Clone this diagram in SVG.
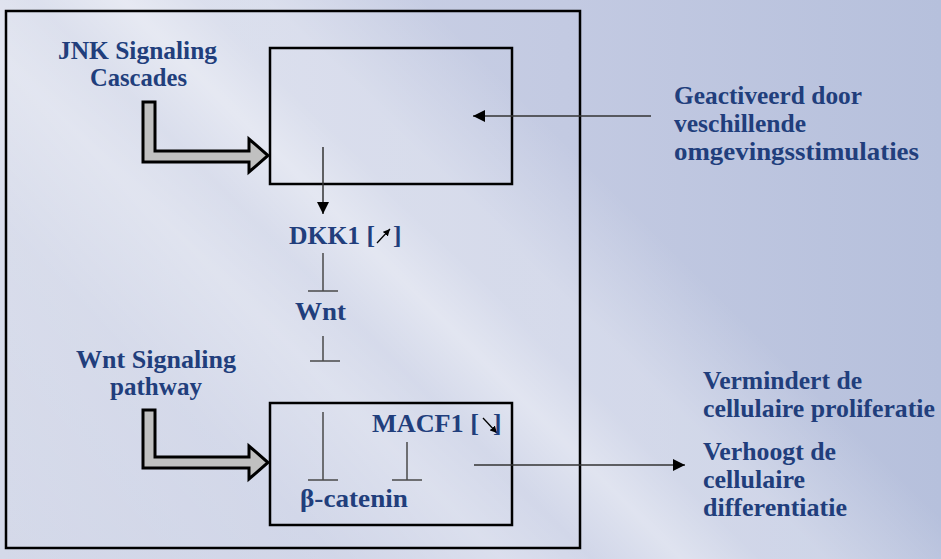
<svg xmlns="http://www.w3.org/2000/svg" width="941" height="559" viewBox="0 0 941 559">
  <defs>
    <linearGradient id="bgBase" x1="0" y1="0" x2="941" y2="0" gradientUnits="userSpaceOnUse">
      <stop offset="0" stop-color="#d2d7e8"/>
      <stop offset="0.6" stop-color="#c3cae2"/>
      <stop offset="1" stop-color="#b6c0dc"/>
    </linearGradient>
    <linearGradient id="bgStreak" x1="0" y1="559" x2="559" y2="0" gradientUnits="userSpaceOnUse">
      <stop offset="0" stop-color="#ffffff" stop-opacity="0.05"/>
      <stop offset="0.3" stop-color="#ffffff" stop-opacity="0.15"/>
      <stop offset="0.45" stop-color="#ffffff" stop-opacity="0.38"/>
      <stop offset="0.53" stop-color="#ffffff" stop-opacity="0.25"/>
      <stop offset="0.61" stop-color="#ffffff" stop-opacity="0.5"/>
      <stop offset="0.68" stop-color="#ffffff" stop-opacity="0.3"/>
      <stop offset="0.74" stop-color="#ffffff" stop-opacity="0.3"/>
      <stop offset="0.88" stop-color="#ffffff" stop-opacity="0"/>
      <stop offset="1" stop-color="#ffffff" stop-opacity="0"/>
    </linearGradient>
    <marker id="head" viewBox="0 0 12 12" refX="12" refY="6" markerWidth="12" markerHeight="12" markerUnits="userSpaceOnUse" orient="auto">
      <path d="M0,0 L12,6 L0,12 Z" fill="#000"/>
    </marker>
    <marker id="smallhead" viewBox="0 0 8 8" refX="8" refY="4" markerWidth="7" markerHeight="7" markerUnits="userSpaceOnUse" orient="auto">
      <path d="M0,0 L8,4 L0,8 Z" fill="#000"/>
    </marker>
    <style>
      .lbl { font-family: "Liberation Serif", "Times New Roman", serif; font-weight: bold; font-size: 25.5px; fill: #213e7c; }
      .box { fill: none; stroke: #000; stroke-width: 2.5; }
      .inh { stroke: #4a4a4a; stroke-width: 1.5; fill: none; }
      .arr { stroke: #333; stroke-width: 1.5; fill: none; }
      .fat { fill: #c0c0c0; stroke: #000; stroke-width: 3; stroke-linejoin: miter; }
      .tiny { stroke: #000; stroke-width: 1.3; fill: none; }
    </style>
  </defs>

  <rect x="0" y="0" width="941" height="559" fill="url(#bgBase)"/>
  <rect x="0" y="0" width="941" height="559" fill="url(#bgStreak)"/>

  <g id="frame">
    <rect class="box" x="6" y="11" width="574" height="537" stroke-width="3"/>
  </g>

  <g id="jnk-box">
    <rect class="box" x="270" y="48" width="242" height="136"/>
  </g>

  <g id="wnt-box">
    <rect class="box" x="270" y="403" width="242" height="122"/>
  </g>

  <g id="jnk-label">
    <text class="lbl" x="58" y="59" textLength="159" lengthAdjust="spacingAndGlyphs">JNK Signaling</text>
    <text class="lbl" x="90" y="86" textLength="97" lengthAdjust="spacingAndGlyphs">Cascades</text>
  </g>

  <g id="wnt-label">
    <text class="lbl" x="76" y="368" textLength="160" lengthAdjust="spacingAndGlyphs">Wnt Signaling</text>
    <text class="lbl" x="110" y="395" textLength="92" lengthAdjust="spacingAndGlyphs">pathway</text>
  </g>

  <g id="stimuli-label">
    <text class="lbl" x="674" y="104" textLength="188" lengthAdjust="spacingAndGlyphs">Geactiveerd door</text>
    <text class="lbl" x="674" y="132" textLength="132" lengthAdjust="spacingAndGlyphs">veschillende</text>
    <text class="lbl" x="674" y="160" textLength="245" lengthAdjust="spacingAndGlyphs">omgevingsstimulaties</text>
  </g>

  <g id="dkk1">
    <text class="lbl" x="289" y="244" textLength="86" lengthAdjust="spacingAndGlyphs">DKK1 [</text>
    <line class="tiny" x1="377" y1="243" x2="390" y2="229" marker-end="url(#smallhead)"/>
    <text class="lbl" x="393" y="244">]</text>
  </g>

  <g id="wnt">
    <text class="lbl" x="295" y="320" textLength="51" lengthAdjust="spacingAndGlyphs">Wnt</text>
  </g>

  <g id="macf1">
    <text class="lbl" x="372" y="432" textLength="107" lengthAdjust="spacingAndGlyphs">MACF1 [</text>
    <line class="tiny" x1="483" y1="418" x2="497" y2="433" marker-end="url(#smallhead)"/>
    <text class="lbl" x="493" y="432">]</text>
  </g>

  <g id="beta-catenin">
    <text class="lbl" x="300" y="507" textLength="108" lengthAdjust="spacingAndGlyphs">β-catenin</text>
  </g>

  <g id="proliferation-label">
    <text class="lbl" x="703" y="389" textLength="159" lengthAdjust="spacingAndGlyphs">Vermindert de</text>
    <text class="lbl" x="703" y="417" textLength="232" lengthAdjust="spacingAndGlyphs">cellulaire proliferatie</text>
  </g>

  <g id="differentiation-label">
    <text class="lbl" x="703" y="460" textLength="133" lengthAdjust="spacingAndGlyphs">Verhoogt de</text>
    <text class="lbl" x="703" y="488" textLength="102" lengthAdjust="spacingAndGlyphs">cellulaire</text>
    <text class="lbl" x="703" y="516" textLength="144" lengthAdjust="spacingAndGlyphs">differentiatie</text>
  </g>

  <g id="connectors">
    <polygon class="fat" points="143,102 155,102 155,151 249,151 249,139 268,155.5 249,172 249,162 143,162"/>
    <polygon class="fat" points="143,410 155,410 155,457 249,457 249,446 268,462.5 249,479 249,468 143,468"/>
    <line class="arr" x1="651" y1="116" x2="473" y2="116" marker-end="url(#head)"/>
    <line class="arr" x1="323" y1="147" x2="323" y2="214" marker-end="url(#head)"/>
    <line class="arr" x1="474" y1="465" x2="685" y2="465" marker-end="url(#head)"/>
    <path class="inh" d="M323,253 V291 M308,291 H338"/>
    <path class="inh" d="M323,336 V361 M310,361 H340"/>
    <path class="inh" d="M323,412 V480 M308,480 H338"/>
    <path class="inh" d="M407,442 V480 M392,480 H422"/>
  </g>
</svg>
